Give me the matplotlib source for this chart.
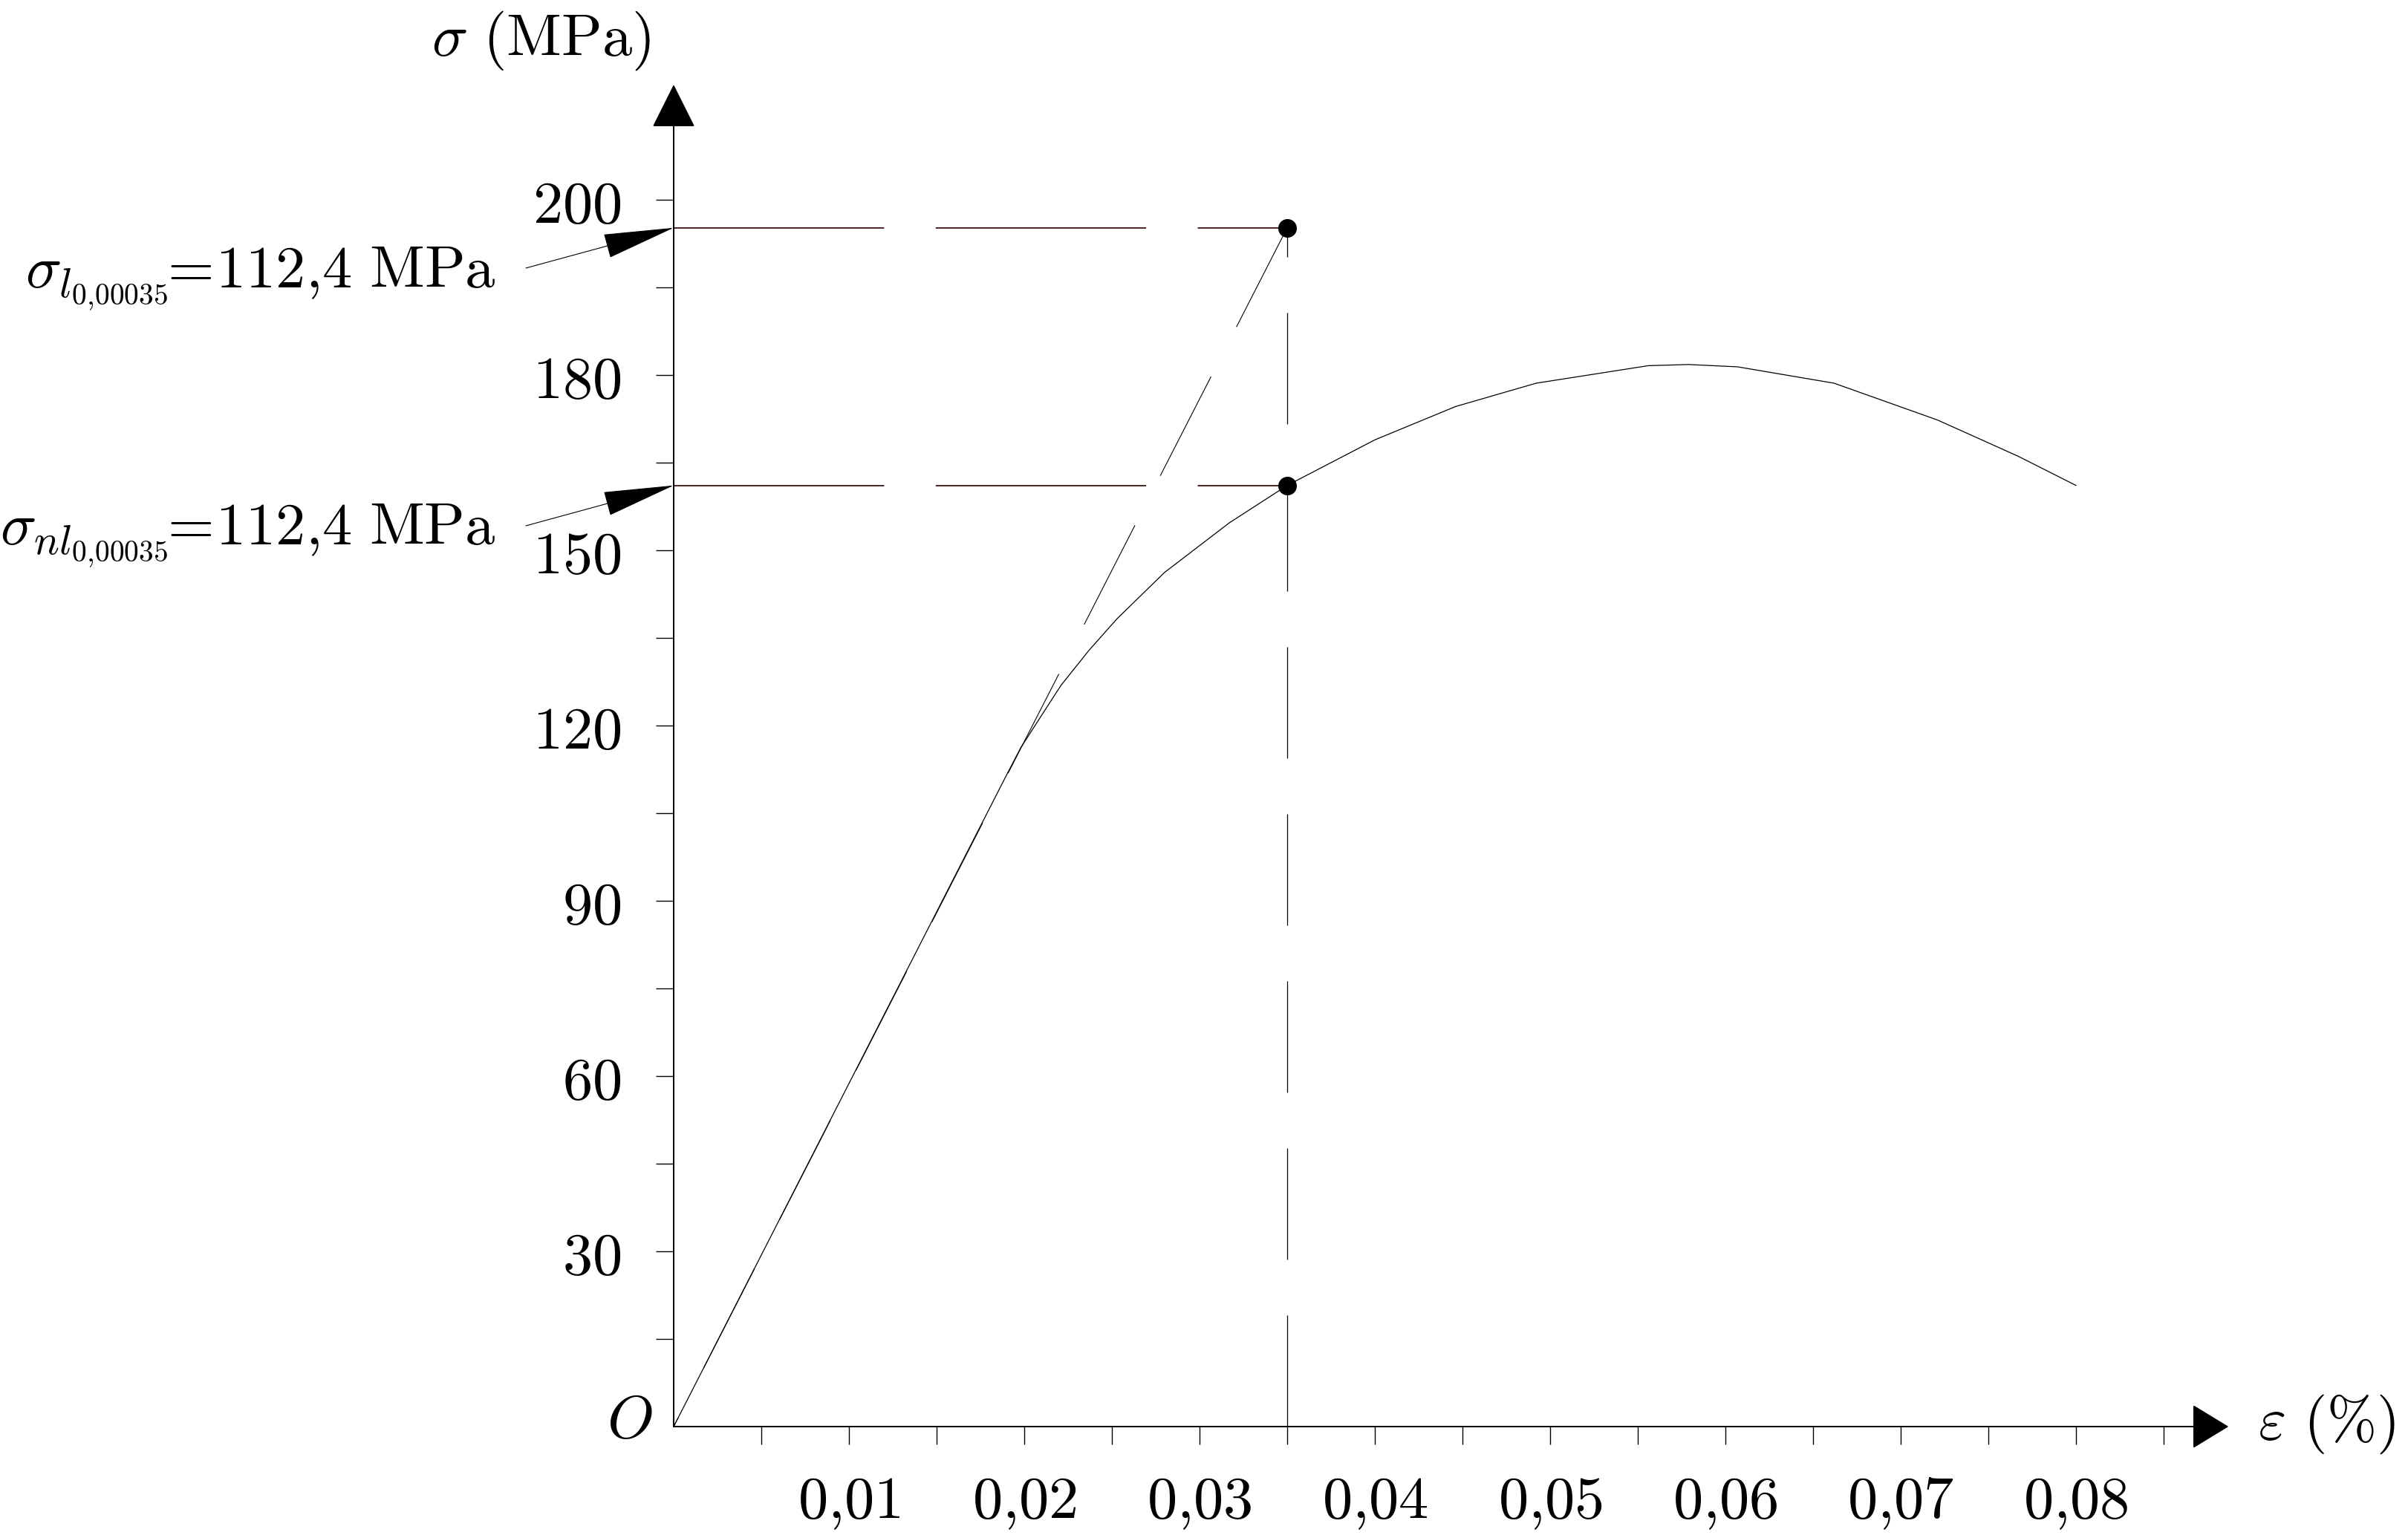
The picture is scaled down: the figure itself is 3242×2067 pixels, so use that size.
import matplotlib
matplotlib.use("Agg")
import matplotlib.pyplot as plt

plt.rcParams['mathtext.fontset'] = 'cm'
plt.rcParams['font.family'] = ['DejaVu Serif']
plt.rcParams['lines.scale_dashes'] = False

# ---- data ----
strain = [0.0, 0.0189, 0.0198, 0.0210, 0.0221, 0.0237, 0.0253, 0.0280, 0.0317, 0.0350, 0.0400,
          0.0446, 0.0492, 0.0556, 0.0579, 0.0607, 0.0662, 0.0721, 0.0767, 0.0800]
stress = [0.0, 111.0, 116.2, 121.8, 126.9, 132.9, 138.3, 146.2, 154.7, 161.1, 168.9,
          174.6, 178.6, 181.6, 181.8, 181.4, 178.6, 172.3, 166.1, 161.1]
eps_ref = 0.035
sigma_l = 205.2
sigma_nl = 161.1

ytick_pos = [30, 60, 90, 120, 150, 180, 210]
ytick_labels = ['30', '60', '90', '120', '150', '180', '200']
ytick_minor = [15, 45, 75, 105, 135, 165, 195]
xtick_pos = [0.01, 0.02, 0.03, 0.04, 0.05, 0.06, 0.07, 0.08]
xtick_labels = ['0,01', '0,02', '0,03', '0,04', '0,05', '0,06', '0,07', '0,08']
xtick_minor = [0.005, 0.015, 0.025, 0.035, 0.045, 0.055, 0.065, 0.075, 0.085]

label_l = r'$\sigma_{l_{0{,}00035}}\!\!=\!112{,}4\ \mathrm{MPa}$'
label_nl = r'$\sigma_{nl_{0{,}00035}}\!\!=\!112{,}4\ \mathrm{MPa}$'

W, H = 3242, 2067
fig = plt.figure(figsize=(W / 100, H / 100), dpi=100)
ox, oy = 907, 1921
xmax, ymax = 0.09, 235.0
px_x = 23600.0
px_y = 118.0 / 15.0
ax = fig.add_axes([ox / W, (H - oy) / H, xmax * px_x / W, ymax * px_y / H])
ax.set_xlim(0, xmax)
ax.set_ylim(0, ymax)
for s in ax.spines.values():
    s.set_visible(False)

FS = 58
ax.set_yticks(ytick_pos)
ax.set_yticklabels([r'$\mathrm{%s}$' % t for t in ytick_labels])
ax.set_yticks(ytick_minor, minor=True)
ax.set_xticks(xtick_pos)
ax.set_xticklabels([r'$%s$' % t.replace(',', '{,}') for t in xtick_labels])
ax.set_xticks(xtick_minor, minor=True)
ax.tick_params(which='both', direction='out', length=17, width=1.0, color='black')
ax.tick_params(axis='y', which='major', pad=34, labelsize=FS)
ax.tick_params(axis='x', which='major', pad=28, labelsize=FS)

# axis lines with arrow heads
ax.annotate('', xy=(0, 229.7), xytext=(0, 0), xycoords='data', annotation_clip=False,
            arrowprops=dict(arrowstyle='-|>,head_length=38,head_width=19', mutation_scale=1,
                            lw=1.4, color='black', shrinkA=0, shrinkB=0))
ax.annotate('', xy=(0.0887, 0), xytext=(0, 0), xycoords='data', annotation_clip=False,
            arrowprops=dict(arrowstyle='-|>,head_length=32,head_width=19.5', mutation_scale=1,
                            lw=1.4, color='black', shrinkA=0, shrinkB=0))

# curve
ax.plot(strain, stress, color='black', lw=0.9, clip_on=False)

# dashed construction lines
ax.plot([eps_ref, 0], [sigma_l, 0], color='black', lw=0.8, dashes=(108, 54), clip_on=False)
ax.plot([eps_ref, eps_ref], [0, sigma_l], color='black', lw=0.9, dashes=(108, 54), clip_on=False)
for yv in (sigma_l, sigma_nl):
    ax.plot([0, eps_ref], [yv, yv], color='#2a0000', lw=1.2, dashes=(204, 50), clip_on=False)

# points
ax.plot([eps_ref, eps_ref], [sigma_l, sigma_nl], 'o', color='black', ms=17, clip_on=False, zorder=5)

# annotation arrows + labels
for yv, tail_y, text, base_y in ((sigma_l, 361, label_l, 387.5), (sigma_nl, 708, label_nl, 734)):
    ax.annotate('', xy=(0, yv), xycoords='data', xytext=(708, H - tail_y),
                textcoords='figure pixels', annotation_clip=False,
                arrowprops=dict(arrowstyle='-|>,head_length=64,head_width=11', mutation_scale=1,
                                lw=0.8, color='black', shrinkA=0, shrinkB=0))
    fig.text(668 / W, 1 - base_y / H, text, ha='right', va='baseline', fontsize=FS)

# axis titles
fig.text(581 / W, 1 - 75 / H, r'$\sigma\ (\mathrm{MPa})$', ha='left', va='baseline', fontsize=FS)
fig.text(3040 / W, 1 - 1938 / H, r'$\varepsilon\ (\%)$', ha='left', va='baseline', fontsize=FS)
fig.text(878 / W, 1 - 1936 / H, r'$O$', ha='right', va='baseline', fontsize=FS)

fig.savefig('out.png', dpi=100)
